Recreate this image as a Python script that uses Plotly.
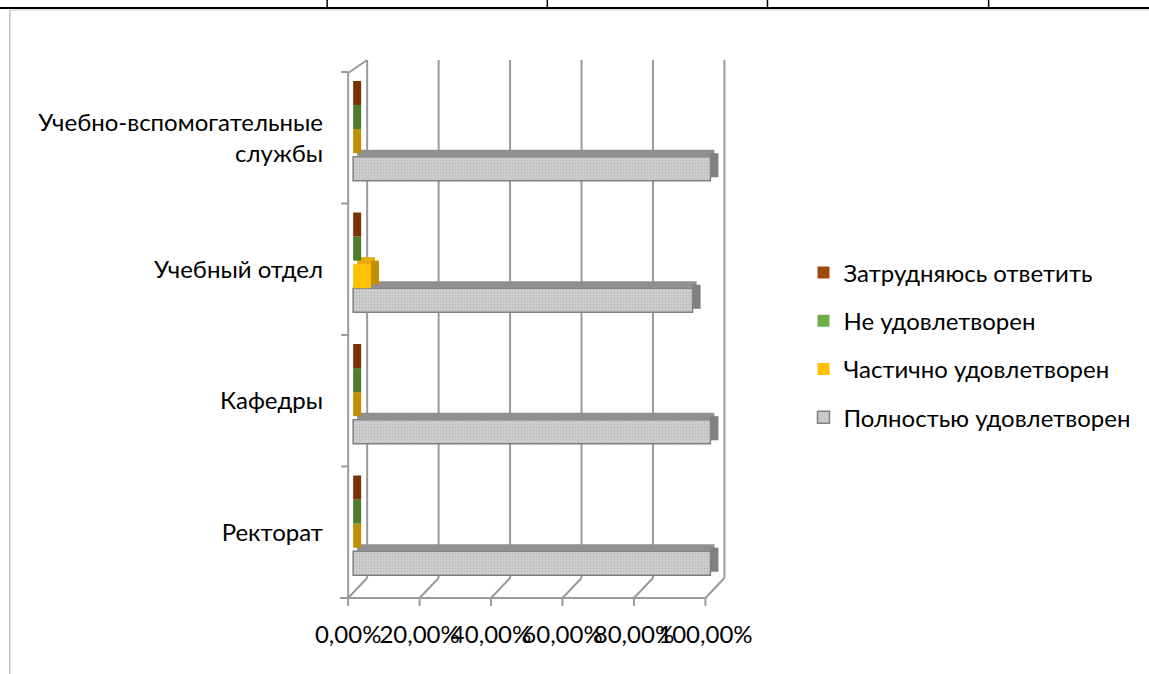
import plotly.graph_objects as go

# ---------------- data ----------------
categories = ["Ректорат", "Кафедры", "Учебный отдел", "Учебно-вспомогательные<br>службы"]
series_names = ["Полностью удовлетворен", "Частично удовлетворен", "Не удовлетворен", "Затрудняюсь ответить"]
full_sat = [1.00, 1.00, 0.95, 1.00]
partial_sat = [0.00, 0.00, 0.05, 0.00]
not_sat = [0.00, 0.00, 0.00, 0.00]
hard_to_say = [0.00, 0.00, 0.00, 0.00]
x_ticks = [0.0, 0.2, 0.4, 0.6, 0.8, 1.0]

series_values = [full_sat, partial_sat, not_sat, hard_to_say]

# ---------------- styles ----------------
FONT = "Lato"
FS = 24
front_cols = ["#cecece", "#ffc000", "#70ad47", "#9e480e"]
top_cols = ["#909090", "#e8ab00", "#5e9639", "#8a3f0c"]
side_cols = ["#808080", "#bf9000", "#4e7d30", "#7a3306"]

W, H = 1149, 674
X0PX, PXU = 353.0, 357.0          # pixel of x=0, pixels per unit
XR = [-0.02, 1.08]
PLOT_L = X0PX + XR[0] * PXU
PLOT_R = X0PX + XR[1] * PXU
PLOT_T, PLOT_B = 72.0, 598.0
PW, PH = PLOT_R - PLOT_L, PLOT_B - PLOT_T

BAR_W = 0.183
OFF0 = -0.327
DEPTH = 8.0 / PXU        # depth of 3D faces in x units
TOPH = 0.053             # height of top face (category units)


def xp(v, dpx=0.0):
    return (X0PX + v * PXU + dpx - PLOT_L) / PW


def xpix(px):
    return (px - PLOT_L) / PW


def yp(py):
    return (PLOT_B - py) / PH


fig = go.Figure()

n_series = len(series_names)
for i, (name, vals) in enumerate(zip(series_names, series_values)):
    off = OFF0 + i * BAR_W
    front_marker = dict(color=front_cols[i], line=dict(width=0))
    if i == 0:
        front_marker = dict(color=front_cols[i], line=dict(color="#808080", width=1.5),
                            pattern=dict(shape=".", size=3, solidity=0.25,
                                         fgcolor="#b8b8b8", bgcolor=front_cols[i], fillmode="replace"))
    rank = n_series - i
    # front face
    fig.add_trace(go.Bar(
        y=categories, x=vals, orientation="h", name=name,
        offset=off, width=BAR_W, marker=front_marker,
        legendgroup=name, legendrank=rank, showlegend=True, hoverinfo="x+name"))
    # top face
    fig.add_trace(go.Bar(
        y=categories, x=vals, base=[DEPTH / 2] * len(vals), orientation="h",
        offset=off + BAR_W, width=TOPH,
        marker=dict(color=top_cols[i], line=dict(width=0)),
        legendgroup=name, legendrank=rank, showlegend=False, hoverinfo="skip"))
    # side face
    fig.add_trace(go.Bar(
        y=categories, x=[DEPTH] * len(vals), base=vals, orientation="h",
        offset=off + TOPH / 2, width=BAR_W,
        marker=dict(color=side_cols[i], line=dict(width=0)),
        legendgroup=name, legendrank=rank, showlegend=False, hoverinfo="skip"))

shapes = []
grid_col = "#9a9a9a"
# back wall gridlines + floor diagonals + front ticks
for t in x_ticks:
    shapes.append(dict(type="line", xref="paper", yref="paper",
                       x0=xp(t, 14), x1=xp(t, 14), y0=yp(578), y1=yp(60),
                       line=dict(color=grid_col, width=2), layer="below"))
    shapes.append(dict(type="line", xref="paper", yref="paper",
                       x0=xp(t, 14), x1=xp(t, -5), y0=yp(578), y1=yp(598),
                       line=dict(color=grid_col, width=2), layer="below"))
    shapes.append(dict(type="line", xref="paper", yref="paper",
                       x0=xp(t, -5), x1=xp(t, -5), y0=yp(598), y1=yp(606),
                       line=dict(color=grid_col, width=2), layer="below"))
# front floor edge
shapes.append(dict(type="line", xref="paper", yref="paper",
                   x0=xp(0, -13), x1=xp(x_ticks[-1], -5), y0=yp(598), y1=yp(598),
                   line=dict(color=grid_col, width=2), layer="below"))
# left wall front edge + top diagonal
shapes.append(dict(type="line", xref="paper", yref="paper",
                   x0=xp(0, -5), x1=xp(0, -5), y0=yp(598), y1=yp(73),
                   line=dict(color=grid_col, width=2), layer="below"))
shapes.append(dict(type="line", xref="paper", yref="paper",
                   x0=xp(0, -5), x1=xp(0, 14), y0=yp(73), y1=yp(60),
                   line=dict(color=grid_col, width=2), layer="below"))
# category ticks
for k in range(len(categories) + 1):
    yy = k / len(categories)
    shapes.append(dict(type="line", xref="paper", yref="paper",
                       x0=xp(0, -12), x1=xp(0, -5), y0=yy, y1=yy,
                       line=dict(color=grid_col, width=2), layer="below"))

# document frame (table border above the chart)
shapes.append(dict(type="line", xref="paper", yref="paper",
                   x0=xpix(0), x1=xpix(W), y0=yp(8), y1=yp(8),
                   line=dict(color="#000000", width=2)))
for sx in [327, 547, 767, 988]:
    shapes.append(dict(type="line", xref="paper", yref="paper",
                       x0=xpix(sx), x1=xpix(sx), y0=yp(0), y1=yp(8),
                       line=dict(color="#000000", width=1.5)))
shapes.append(dict(type="line", xref="paper", yref="paper",
                   x0=xpix(10), x1=xpix(10), y0=yp(10), y1=yp(H),
                   line=dict(color="#a0a0a0", width=1)))
shapes.append(dict(type="line", xref="paper", yref="paper",
                   x0=xpix(10), x1=xpix(W), y0=yp(10), y1=yp(10),
                   line=dict(color="#c8c8c8", width=1)))

fig.update_layout(
    width=W, height=H,
    margin=dict(l=PLOT_L, r=W - PLOT_R, t=PLOT_T, b=H - PLOT_B, autoexpand=False),
    paper_bgcolor="white", plot_bgcolor="rgba(0,0,0,0)",
    barmode="overlay",
    separators=", ",
    font=dict(family=FONT, size=FS, color="#000000"),
    showlegend=True,
    legend=dict(x=xpix(803), y=yp(345), xanchor="left", yanchor="middle",
                traceorder="grouped", tracegroupgap=14,
                font=dict(family=FONT, size=FS, color="#000000"),
                bgcolor="rgba(0,0,0,0)"),
    shapes=shapes,
    xaxis=dict(range=XR, tickvals=x_ticks, tickformat=".2%", showgrid=False,
               zeroline=False, showline=False, ticks="", ticklabelshift=-5,
               tickangle=0, ticklabelstandoff=20, fixedrange=True),
    yaxis=dict(type="category", categoryorder="array", categoryarray=categories,
               range=[-0.5, len(categories) - 0.5], showgrid=False, zeroline=False,
               showline=False, ticks="", ticklabelstandoff=22, fixedrange=True),
)

fig.write_html("out.html", config={"displayModeBar": False},
               post_script="document.body.style.margin='0';document.body.style.overflow='hidden';")
